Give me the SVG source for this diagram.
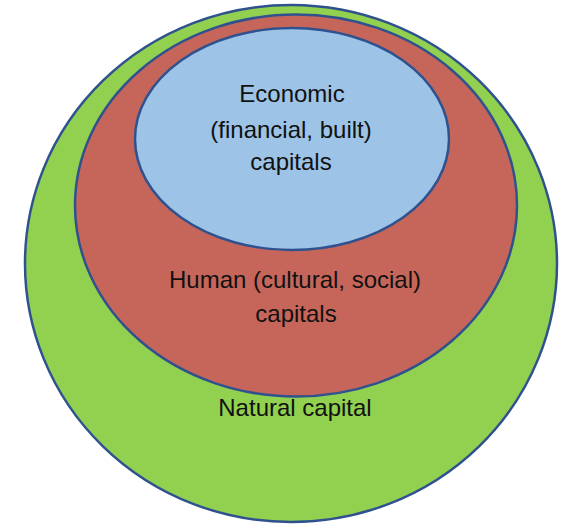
<svg xmlns="http://www.w3.org/2000/svg" width="566" height="524" viewBox="0 0 566 524">
<style>
.ring{stroke:#2f528f;stroke-width:2.5}
.lbl{font-family:"Liberation Sans",Arial,sans-serif;font-size:24px;fill:#111;text-anchor:middle}
</style>
<rect width="566" height="524" fill="#fff"/>
<g id="natural">
<ellipse class="ring" cx="291" cy="263.5" rx="266" ry="258.5" fill="#92d050"/>
<text class="lbl" x="295" y="416">Natural capital</text>
</g>
<g id="human">
<ellipse class="ring" cx="296" cy="205.5" rx="221" ry="191" fill="#c6665a"/>
<text class="lbl" x="295" y="288">Human (cultural, social)</text>
<text class="lbl" x="296" y="322">capitals</text>
</g>
<g id="economic">
<ellipse class="ring" cx="292" cy="139" rx="157" ry="111" fill="#9dc3e6"/>
<text class="lbl" x="292" y="102">Economic</text>
<text class="lbl" x="291" y="138">(financial, built)</text>
<text class="lbl" x="291" y="170">capitals</text>
</g>
<g id="connectors"/>
</svg>
